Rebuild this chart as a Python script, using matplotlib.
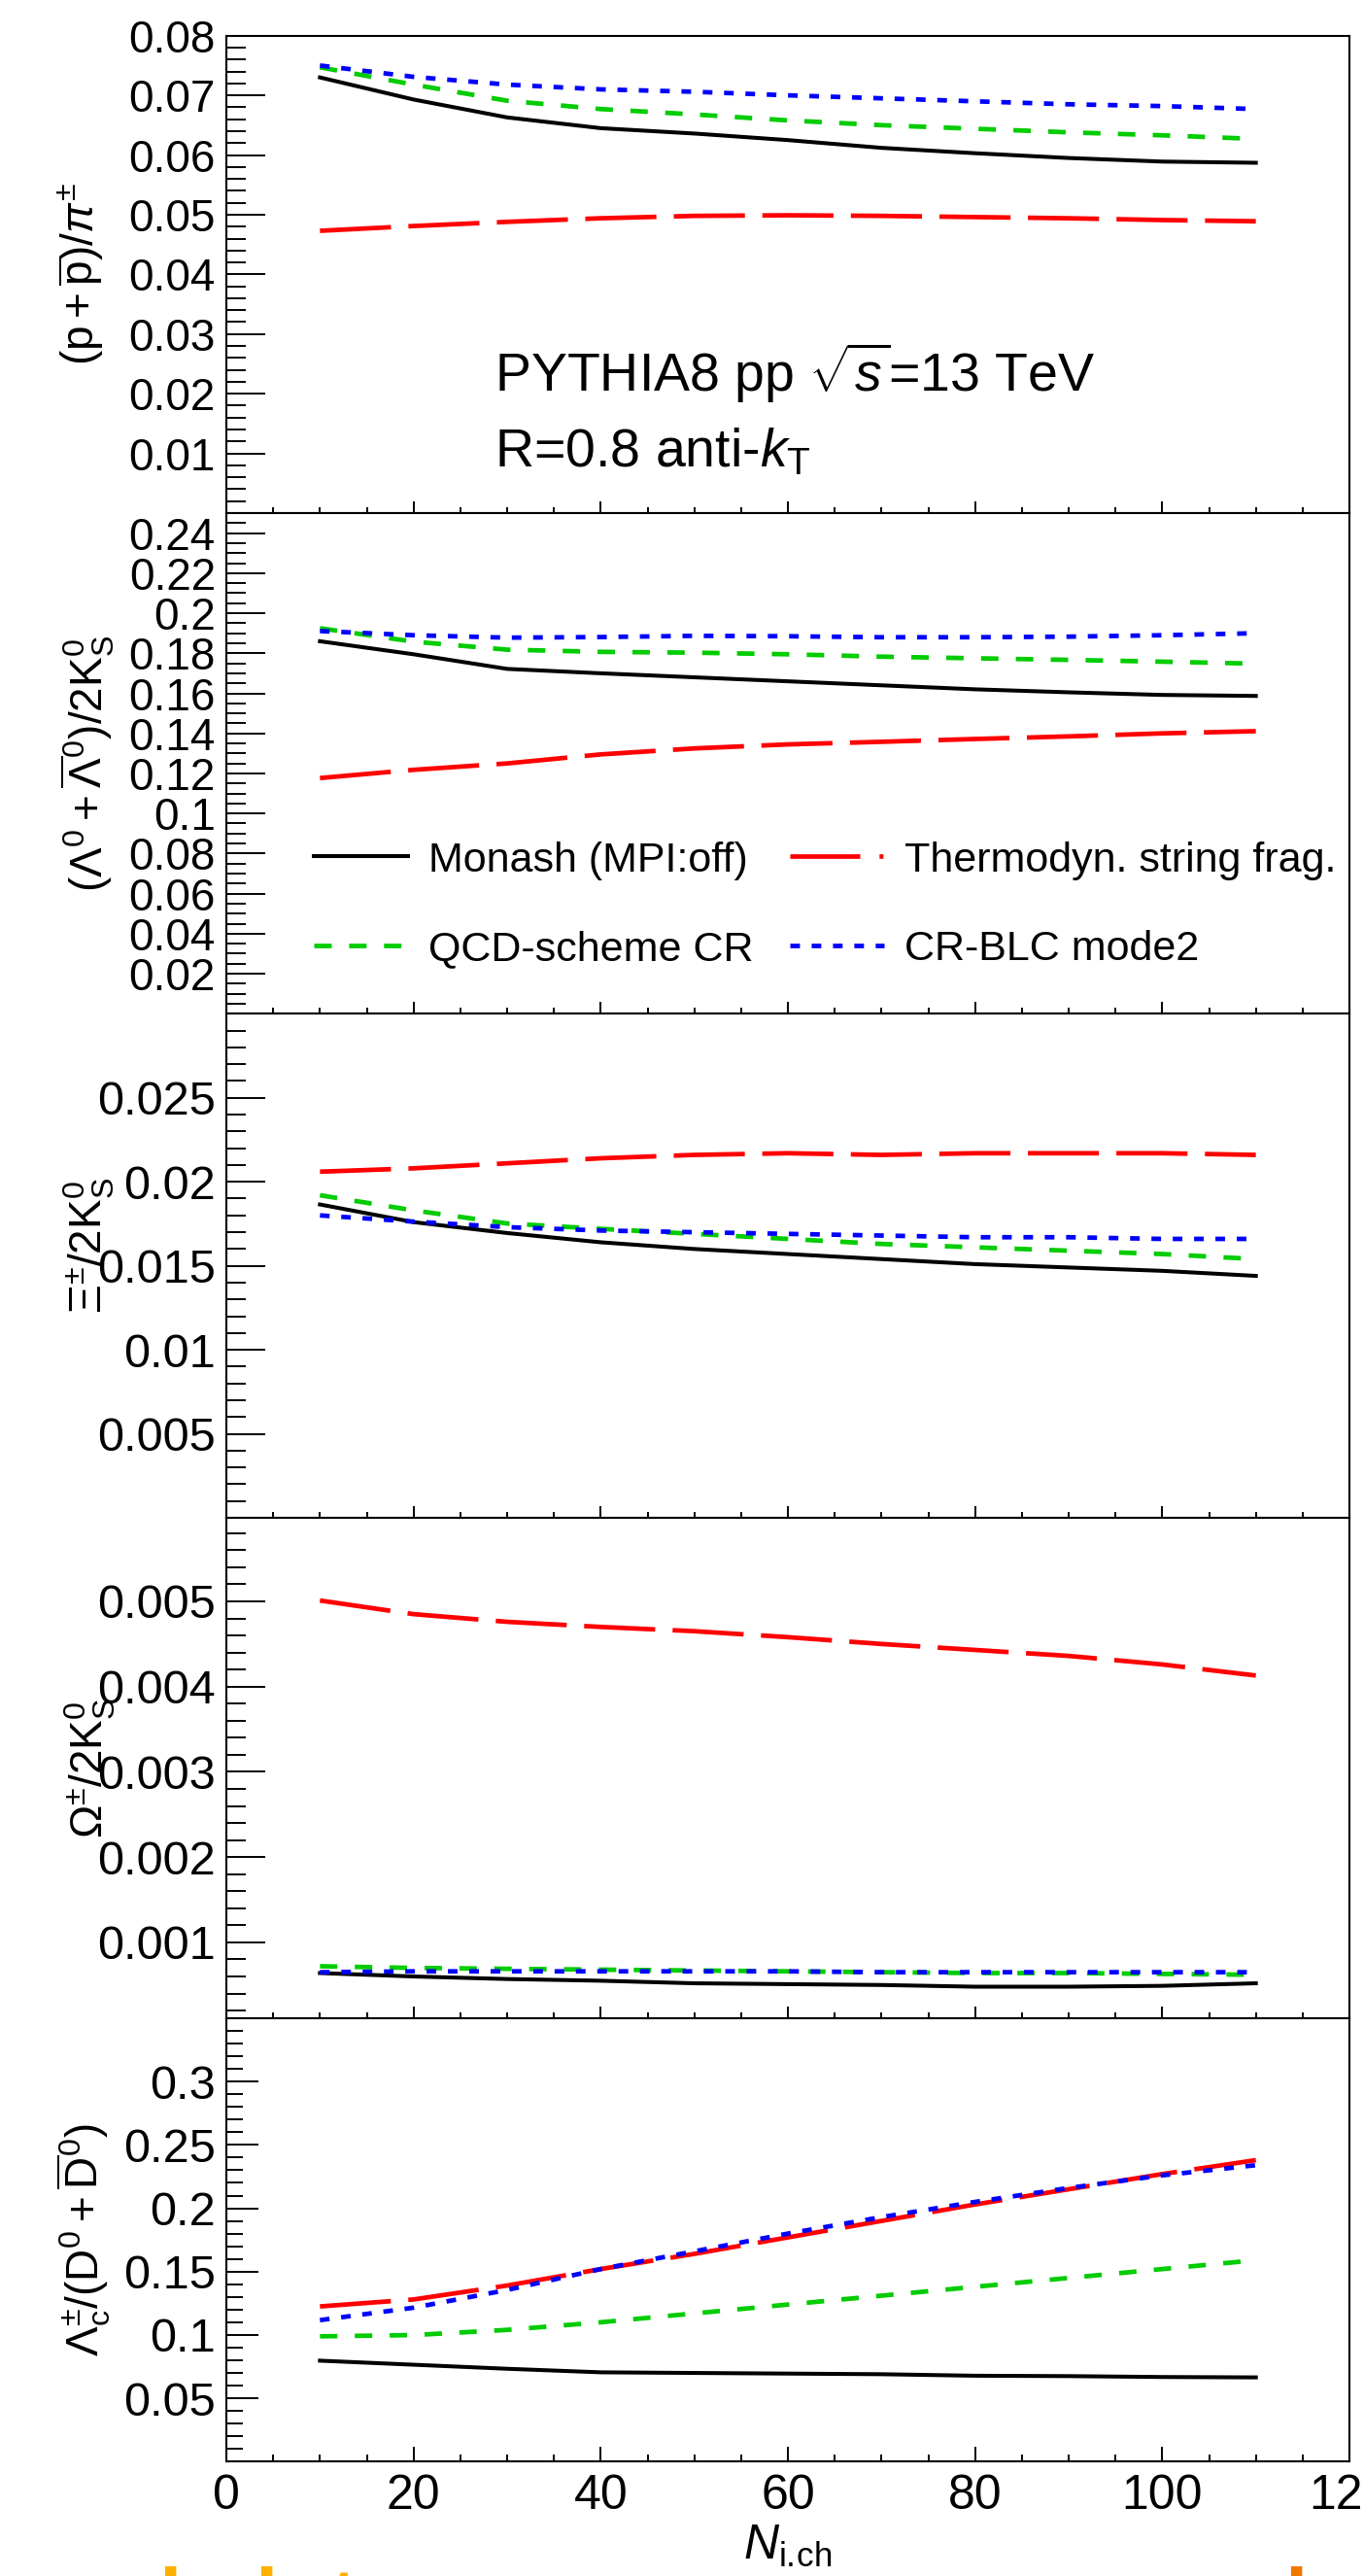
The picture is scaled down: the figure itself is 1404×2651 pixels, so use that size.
import matplotlib
matplotlib.use("Agg")
import matplotlib.pyplot as plt
from matplotlib.lines import Line2D
from matplotlib.ticker import MultipleLocator, FuncFormatter

plt.rcParams['font.family'] = ['Liberation Sans', 'DejaVu Sans']
plt.rcParams['mathtext.fontset'] = 'custom'
plt.rcParams['mathtext.rm'] = 'Liberation Sans'
plt.rcParams['mathtext.it'] = 'Liberation Sans:italic'
plt.rcParams['mathtext.bf'] = 'Liberation Sans:bold'

# ─────────────────────────────────────────────
# Datos
# ─────────────────────────────────────────────
n_ch = [10, 20, 30, 40, 50, 60, 70, 80, 90, 100, 110]

modelos = ["Monash (MPI:off)", "Thermodyn. string frag.", "QCD-scheme CR", "CR-BLC mode2"]

# (p+pbar)/pi
ppi_monash = [0.0730, 0.0693, 0.0663, 0.0645, 0.0636, 0.0625, 0.0612, 0.0603, 0.0595, 0.0589, 0.0587]
ppi_thermo = [0.0473, 0.0481, 0.0488, 0.0494, 0.0498, 0.0499, 0.0498, 0.0496, 0.0494, 0.0491, 0.0489]
ppi_qcd = [0.0747, 0.0718, 0.0691, 0.0677, 0.0668, 0.0658, 0.0650, 0.0644, 0.0638, 0.0633, 0.0627]
ppi_blc = [0.0750, 0.0731, 0.0718, 0.0710, 0.0706, 0.0700, 0.0695, 0.0690, 0.0685, 0.0682, 0.0677]

# Lambda/2K0s
lk_monash = [0.1860, 0.1795, 0.1722, 0.1700, 0.1680, 0.1660, 0.1640, 0.1620, 0.1605, 0.1592, 0.1587]
lk_thermo = [0.1177, 0.1218, 0.1250, 0.1295, 0.1325, 0.1345, 0.1358, 0.1372, 0.1385, 0.1400, 0.1411]
lk_qcd = [0.1925, 0.1858, 0.1818, 0.1807, 0.1803, 0.1795, 0.1783, 0.1775, 0.1767, 0.1758, 0.1748]
lk_blc = [0.1911, 0.1890, 0.1878, 0.1881, 0.1887, 0.1885, 0.1880, 0.1880, 0.1883, 0.1890, 0.1900]

# Xi/2K0s
xk_monash = [0.01865, 0.0176, 0.01695, 0.0164, 0.0160, 0.0157, 0.0154, 0.0151, 0.0149, 0.0147, 0.0144]
xk_thermo = [0.0206, 0.0208, 0.0211, 0.0214, 0.0216, 0.0217, 0.0216, 0.0217, 0.0217, 0.0217, 0.0216]
xk_qcd = [0.0192, 0.0183, 0.01752, 0.0172, 0.0169, 0.0166, 0.0163, 0.0161, 0.0159, 0.0157, 0.0154]
xk_blc = [0.0180, 0.01763, 0.0173, 0.0171, 0.0170, 0.0169, 0.0168, 0.0167, 0.0167, 0.0166, 0.0166]

# Omega/2K0s
ok_monash = [0.00064, 0.00060, 0.00057, 0.00055, 0.00052, 0.00051, 0.00050, 0.00048, 0.00048, 0.00049, 0.00052]
ok_thermo = [0.00501, 0.00485, 0.00476, 0.00470, 0.00465, 0.00458, 0.00450, 0.00443, 0.00436, 0.00426, 0.00413]
ok_qcd = [0.00072, 0.00070, 0.00069, 0.00068, 0.00067, 0.00066, 0.00065, 0.00064, 0.00064, 0.00063, 0.00062]
ok_blc = [0.00065, 0.00066, 0.00066, 0.00066, 0.00066, 0.00066, 0.00065, 0.00065, 0.00065, 0.00065, 0.00065]

# Lambda_c/D0
lcd_monash = [0.0797, 0.0765, 0.0733, 0.0705, 0.0700, 0.0695, 0.0690, 0.0678, 0.0675, 0.0668, 0.0665]
lcd_thermo = [0.1225, 0.128, 0.139, 0.152, 0.164, 0.177, 0.190, 0.203, 0.215, 0.227, 0.238]
lcd_qcd = [0.0989, 0.0999, 0.104, 0.110, 0.117, 0.124, 0.131, 0.138, 0.145, 0.152, 0.159]
lcd_blc = [0.1117, 0.1215, 0.1355, 0.152, 0.166, 0.180, 0.193, 0.205, 0.216, 0.226, 0.234]

# ─────────────────────────────────────────────
# Estilos
# ─────────────────────────────────────────────
estilos = [
    dict(color="black", lw=2.9, linestyle="-"),
    dict(color="#ff0000", lw=3.4, linestyle=(0, (15.5, 3.8))),
    dict(color="#00cc00", lw=3.4, linestyle=(0, (3.8, 3.8))),
    dict(color="#0000ff", lw=3.4, linestyle=(0, (2.1, 2.55))),
]
# en la leyenda el rojo lleva el punto (raya-punto)
estilos_leyenda = [
    estilos[0],
    dict(color="#ff0000", lw=3.4, linestyle=(0, (15.25, 4.2, 0.85, 4.2))),
    estilos[2],
    estilos[3],
]

paneles = [
    (r"$(\mathrm{p}+\overline{\mathrm{p}})/\pi^{\pm}$",
     [ppi_monash, ppi_thermo, ppi_qcd, ppi_blc], (0, 0.08), 0.01, 0.002, -0.107, 0.5),
    (r"$(\Lambda^{0}+\overline{\Lambda}^{0})/2\mathrm{K}^{0}_{\mathrm{S}}$",
     [lk_monash, lk_thermo, lk_qcd, lk_blc], (0, 0.25), 0.02, 0.005, -0.098, 0.5),
    (r"$\Xi^{\pm}/2\mathrm{K}^{0}_{\mathrm{S}}$",
     [xk_monash, xk_thermo, xk_qcd, xk_blc], (0, 0.03), 0.005, 0.001, -0.098, 0.54),
    (r"$\Omega^{\pm}/2\mathrm{K}^{0}_{\mathrm{S}}$",
     [ok_monash, ok_thermo, ok_qcd, ok_blc], (0.00011, 0.00598), 0.001, 0.0002, -0.097, 0.5),
    (r"$\Lambda_{\mathrm{c}}^{\pm}/(\mathrm{D}^{0}+\overline{\mathrm{D}}^{0})$",
     [lcd_monash, lcd_thermo, lcd_qcd, lcd_blc], (0, 0.35), 0.05, 0.01, -0.101, 0.5),
]

W, H = 1404, 2651
fig = plt.figure(figsize=(W / 100, H / 100), dpi=100)

# bordes de los paneles en pixeles
tops = [36.7, 528, 1043.3, 1562, 2077]
bottoms = [528, 1043.3, 1562, 2077, 2533.3]
x0, x1 = 233, 1389


def hacer_formato(lo, hi, mostrar_tope):
    def f(v, p):
        if v <= lo + 1e-9:
            return ""
        if not mostrar_tope and v >= hi - 1e-9:
            return ""
        return "%g" % v
    return FuncFormatter(f)


ejes = []
for i, (ylab, series, ylim, mayor, menor, labx, laby) in enumerate(paneles):
    ax = fig.add_axes([x0 / W, 1 - bottoms[i] / H, (x1 - x0) / W, (bottoms[i] - tops[i]) / H])
    for s, est in zip(series, estilos):
        ax.plot(n_ch, s, **est)
    ax.set_xlim(0, 120)
    ax.set_ylim(*ylim)
    ax.xaxis.set_major_locator(MultipleLocator(20))
    ax.xaxis.set_minor_locator(MultipleLocator(5))
    ax.yaxis.set_major_locator(MultipleLocator(mayor))
    ax.yaxis.set_minor_locator(MultipleLocator(menor))
    ax.yaxis.set_major_formatter(hacer_formato(ylim[0], ylim[1], i == 0))
    fs = 33 if i < 2 else 35
    ylen = 29 if i < 4 else 24
    xlen = 8.6 if i < 4 else 10.8
    ax.tick_params(axis="y", which="major", direction="in", length=ylen, width=1.4, labelsize=fs, pad=8)
    ax.tick_params(axis="y", which="minor", direction="in", length=ylen / 2, width=1.4)
    ax.tick_params(axis="x", which="major", direction="in", length=xlen, width=1.4, labelsize=36, pad=9)
    ax.tick_params(axis="x", which="minor", direction="in", length=xlen / 2, width=1.4)
    ax.tick_params(top=False, right=False)
    if i < 4:
        ax.tick_params(axis="x", labelbottom=False)
    for sp in ax.spines.values():
        sp.set_linewidth(1.5)
    ax.set_ylabel(ylab, fontsize=33)
    ax.yaxis.set_label_coords(labx, laby)
    ejes.append(ax)

ax1 = ejes[0]
ax1.text(0.239, 0.254, r"PYTHIA8 pp $\sqrt{s}$=13 TeV", transform=ax1.transAxes,
         fontsize=40, va="baseline", ha="left")
ax1.text(0.239, 0.0977, r"R=0.8 anti-$k_{\mathrm{T}}$", transform=ax1.transAxes,
         fontsize=40, va="baseline", ha="left")

ax2 = ejes[1]
proxies = [Line2D([], [], **est) for est in estilos_leyenda]
orden = [0, 2, 1, 3]
ax2.legend([proxies[k] for k in orden], [modelos[k] for k in orden], ncol=2,
           loc="upper left", bbox_to_anchor=(0.0776, 0.345), frameon=False,
           fontsize=31, handlelength=2.25, handletextpad=0.49, columnspacing=0.88,
           labelspacing=1.2, borderpad=0, borderaxespad=0)

ax5 = ejes[4]
ax5.set_xlabel(r"$N_{\mathrm{i.}\!\mathrm{ch}}$", fontsize=36, labelpad=4)

# restos de texto naranja cortado en el borde inferior
for xp, letra, col in [(163, "l", "#ffb000"), (262, "l", "#ffb000"), (340, "t", "#ffb000"),
                       (1322, "l", "#f07800")]:
    fig.text(xp / W, 1 - 2702 / H, letra, color=col, fontsize=60, fontweight="bold",
             ha="left", va="baseline")

fig.savefig("out.png", dpi=100)
